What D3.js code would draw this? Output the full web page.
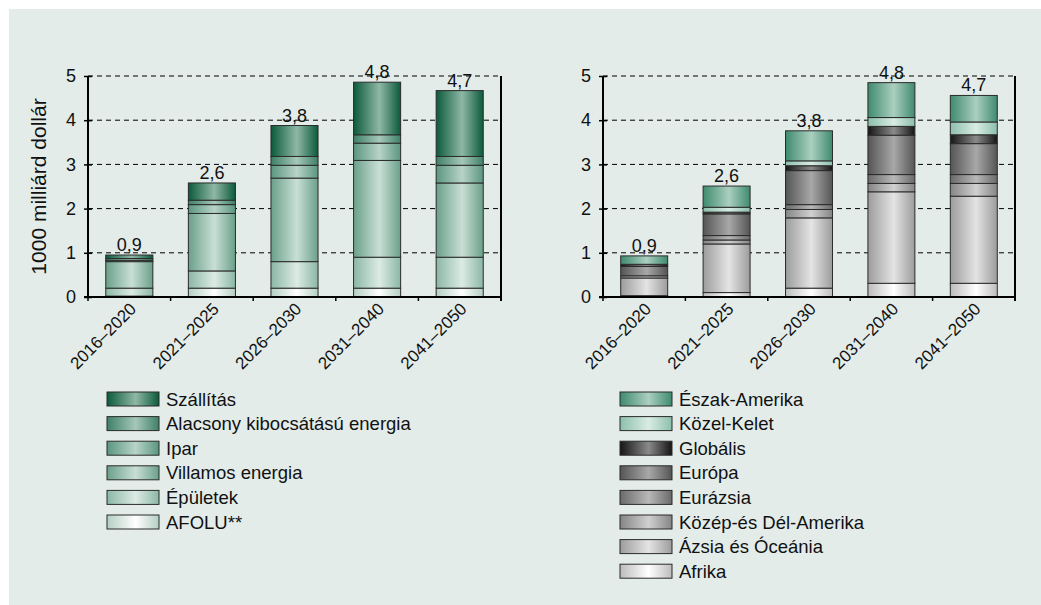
<!DOCTYPE html>
<html>
<head>
<meta charset="utf-8">
<script src="https://cdn.jsdelivr.net/npm/d3@7"></script>
<style>
  body { margin: 0; background: #fff; }
  svg { display: block; }
  text { font-family: "Liberation Sans", Arial, sans-serif; fill: #111; }
</style>
</head>
<body>
<svg id="chart" width="1041" height="605"></svg>
<script>
// periods on the x axis
const periods = ["2016–2020", "2021–2025", "2026–2030", "2031–2040", "2041–2050"];
const totalLabels = ["0,9", "2,6", "3,8", "4,8", "4,7"];

// left chart: sectors, bottom to top
const sectors = ["AFOLU**", "Épületek", "Villamos energia", "Ipar", "Alacsony kibocsátású energia", "Szállítás"];
const afolu     = [0.02, 0.20, 0.20, 0.20, 0.20];
const epuletek  = [0.18, 0.39, 0.60, 0.70, 0.70];
const villamos  = [0.60, 1.30, 1.89, 2.19, 1.68];
const ipar      = [0.03, 0.20, 0.29, 0.39, 0.40];
const alacsony  = [0.04, 0.10, 0.20, 0.19, 0.20];
const szallitas = [0.08, 0.39, 0.70, 1.19, 1.49];
const sectorValues = [afolu, epuletek, villamos, ipar, alacsony, szallitas];

// right chart: regions, bottom to top
const regions = ["Afrika", "Ázsia és Óceánia", "Közép-és Dél-Amerika", "Eurázsia", "Európa", "Globális", "Közel-Kelet", "Észak-Amerika"];
const afrika    = [0.03, 0.10, 0.20, 0.31, 0.31];
const azsia     = [0.40, 1.10, 1.59, 2.07, 1.97];
const kozep     = [0.05, 0.09, 0.19, 0.19, 0.29];
const eurazsia  = [0.00, 0.10, 0.11, 0.20, 0.20];
const europa    = [0.21, 0.49, 0.77, 0.89, 0.70];
const globalis  = [0.05, 0.04, 0.11, 0.20, 0.20];
const kozelKelet= [0.00, 0.11, 0.11, 0.20, 0.29];
const eszak     = [0.19, 0.48, 0.68, 0.79, 0.60];
const regionValues = [afrika, azsia, kozep, eurazsia, europa, globalis, kozelKelet, eszak];

const yTicks = [0, 1, 2, 3, 4, 5];

// gradient colours [edge, middle]
const sectorColors = [
  ["#b3cfc3", "#ffffff"],
  ["#8bb7a5", "#dcebe5"],
  ["#6aa08a", "#c9dfd6"],
  ["#5a9680", "#b8d3c8"],
  ["#3e8068", "#a6c7b9"],
  ["#0b5a3c", "#8fb8a6"]
];
const regionColors = [
  ["#bcbcbc", "#ffffff"],
  ["#9c9c9c", "#e4e4e4"],
  ["#858585", "#d0d0d0"],
  ["#6a6a6a", "#b8b8b8"],
  ["#555555", "#a8a8a8"],
  ["#151515", "#8a8a8a"],
  ["#8cbfac", "#d9ece4"],
  ["#3f8b6f", "#abcfc0"]
];

const svg = d3.select("#chart");

svg.append("rect")
  .attr("x", 9).attr("y", 9)
  .attr("width", 1041 - 9).attr("height", 605 - 9)
  .attr("fill", "#e3ece9");

const defs = svg.append("defs");
const makeGrad = (id, c) => {
  const g = defs.append("linearGradient").attr("id", id)
    .attr("x1", "0%").attr("x2", "100%").attr("y1", "0%").attr("y2", "0%");
  g.append("stop").attr("offset", "0%").attr("stop-color", c[0]);
  g.append("stop").attr("offset", "55%").attr("stop-color", c[1]);
  g.append("stop").attr("offset", "100%").attr("stop-color", c[0]);
};
sectorColors.forEach((c, i) => makeGrad("gs" + i, c));
regionColors.forEach((c, i) => makeGrad("gr" + i, c));

const y = d3.scaleLinear().domain([0, 5]).range([297, 76]);

const drawPanel = (x0, x1, series, gradPrefix, showTitle) => {
  const x = d3.scaleBand().domain(periods).range([x0, x1])
    .paddingInner(0.43).paddingOuter(0.215);
  const g = svg.append("g");

  // dashed grid
  g.selectAll(".grid").data(yTicks.slice(1)).enter().append("line")
    .attr("x1", x0).attr("x2", x1)
    .attr("y1", d => y(d)).attr("y2", d => y(d))
    .attr("stroke", "#000").attr("stroke-width", 1)
    .attr("stroke-dasharray", "5,4");

  // stacked bars
  const stackData = periods.map((p, i) => {
    const o = { period: p };
    series.forEach((s, k) => o[k] = s[i]);
    return o;
  });
  const stacked = d3.stack().keys(series.map((s, k) => k))(stackData);
  stacked.forEach((layer, k) => {
    g.selectAll(null).data(layer).enter().append("rect")
      .attr("x", d => x(d.data.period))
      .attr("width", x.bandwidth())
      .attr("y", d => y(d[1]))
      .attr("height", d => y(d[0]) - y(d[1]))
      .attr("fill", "url(#" + gradPrefix + k + ")")
      .attr("stroke", "#2b2b2b").attr("stroke-width", 1);
  });

  // total labels
  const tops = periods.map((p, i) => d3.sum(series, s => s[i]));
  g.selectAll(null).data(periods).enter().append("text")
    .attr("x", d => x(d) + x.bandwidth() / 2)
    .attr("y", (d, i) => y(tops[i]) - 4)
    .attr("text-anchor", "middle")
    .attr("font-size", 18)
    .text((d, i) => totalLabels[i]);

  // axes
  const yAxis = d3.axisLeft(y).tickValues(yTicks).tickFormat(d3.format("d")).tickSize(4).tickPadding(8);
  const ya = g.append("g").attr("transform", `translate(${x0},0)`).call(yAxis);
  ya.attr("font-family", null);
  ya.selectAll("text").attr("font-size", 18).attr("fill", "#111");
  ya.selectAll(".tick line").attr("x2", 4).attr("x1", -4).attr("stroke-width", 1.5);
  ya.select(".domain").attr("stroke-width", 2).attr("d", `M0,${y(0)}V${y(5)}`);

  g.append("line")
    .attr("x1", x1).attr("x2", x1).attr("y1", y(0) + 4).attr("y2", y(5))
    .attr("stroke", "#000").attr("stroke-width", 2);

  const step = (x1 - x0) / periods.length;
  g.selectAll(null).data(d3.range(periods.length + 1)).enter().append("line")
    .attr("x1", d => x0 + d * step).attr("x2", d => x0 + d * step)
    .attr("y1", y(0)).attr("y2", y(0) + 4)
    .attr("stroke", "#000").attr("stroke-width", 1.5);
  g.append("line").attr("x1", x0 - 4).attr("x2", x1).attr("y1", y(0)).attr("y2", y(0))
    .attr("stroke", "#000").attr("stroke-width", 2);

  g.selectAll(null).data(periods).enter().append("text")
    .attr("transform", d => `translate(${x(d) + x.bandwidth() / 2 + 8},${y(0) + 13}) rotate(-45)`)
    .attr("text-anchor", "end")
    .attr("font-size", 17)
    .text(d => d);

  if (showTitle) {
    g.append("text")
      .attr("transform", `translate(46,${(y(0) + y(5)) / 2}) rotate(-90)`)
      .attr("text-anchor", "middle")
      .attr("font-size", 21)
      .text("1000 milliárd dollár");
  }
};

drawPanel(88, 501, sectorValues, "gs", true);
drawPanel(603, 1015, regionValues, "gr", false);

// legends, listed top to bottom
const drawLegend = (lx, names, gradPrefix) => {
  const items = names.map((n, k) => ({ name: n, k: k })).reverse();
  const row = d3.scaleLinear().domain([0, 1]).range([399, 423.6]);
  const lg = svg.append("g");
  const it = lg.selectAll(null).data(items).enter().append("g")
    .attr("transform", (d, i) => `translate(${lx},${row(i)})`);
  it.append("rect")
    .attr("x", 0).attr("y", -7).attr("width", 52).attr("height", 14)
    .attr("fill", d => "url(#" + gradPrefix + d.k + ")")
    .attr("stroke", "#2b2b2b").attr("stroke-width", 1);
  it.append("text")
    .attr("x", 59).attr("y", 6.5)
    .attr("font-size", 18.5)
    .text(d => d.name);
};
drawLegend(107, sectors, "gs");
drawLegend(620, regions, "gr");
</script>
</body>
</html>
